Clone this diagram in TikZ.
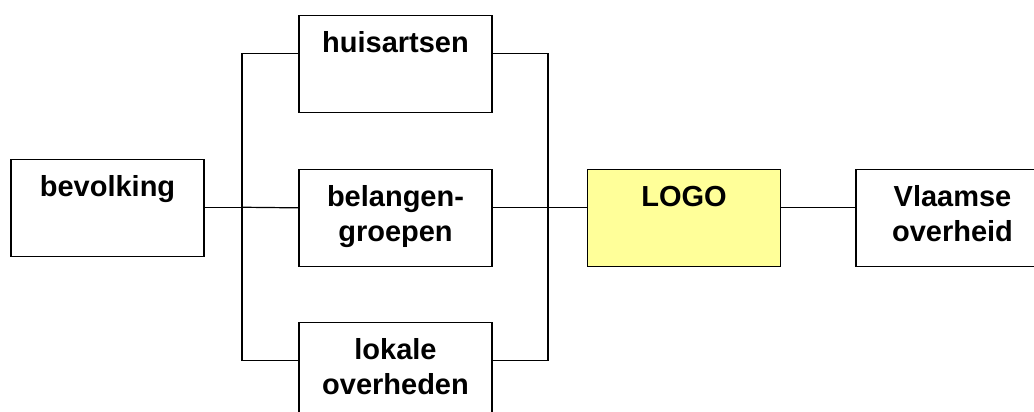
\documentclass[tikz,border=0pt]{standalone}
\usepackage{fontspec}
\setmainfont{Liberation Sans}
\usepackage{xcolor}
\usepackage{tikz}

\definecolor{logogeel}{RGB}{255,255,153}
\tikzset{
  vak/.style={draw, line width=1.2pt, anchor=north, inner xsep=0pt, inner ysep=0pt,
    text width=193pt, align=center, text height=37pt, text depth=59.5pt,
    font=\fontsize{29}{35}\selectfont\bfseries},
  lijn/.style={line width=1.2pt}
}

\begin{document}
\begin{tikzpicture}[x=1pt,y=-1pt]
			\useasboundingbox (0,0) rectangle (1034,412);
			
			% vakken
			\node[vak] (bev) at (107.5,159) {bevolking};
			\node[vak] (huis) at (395.5,15) {huisartsen};
			\node[vak] (bel) at (395.5,169) {belangen-\\groepen};
			\node[vak] (lok) at (395.5,322) {lokale\\overheden};
			\node[vak, fill=logogeel] (logo) at (684,169) {LOGO};
			\node[vak] (vla) at (952.5,169) {Vlaamse\\overheid};
			
			% verdeelpunten links en rechts
			\coordinate (links) at (242,207.25);
			\coordinate (rechts) at (548,207.25);
			
			% verbindingen
			\draw[lijn] (bev.east) -- (bev.east -| links);
			\draw[lijn] ([yshift=10pt]huis.west) -| (links) |- ([yshift=10pt]lok.west);
			\draw[lijn] (links) -- ([yshift=10pt]bel.west);
			\draw[lijn] ([yshift=10pt]huis.east) -| (rechts) |- ([yshift=10pt]lok.east);
			\draw[lijn] ([yshift=10pt]bel.east) -- ([yshift=10pt]logo.west);
			\draw[lijn] ([yshift=10pt]logo.east) -- ([yshift=10pt]vla.west);
		\end{tikzpicture}
\end{document}
